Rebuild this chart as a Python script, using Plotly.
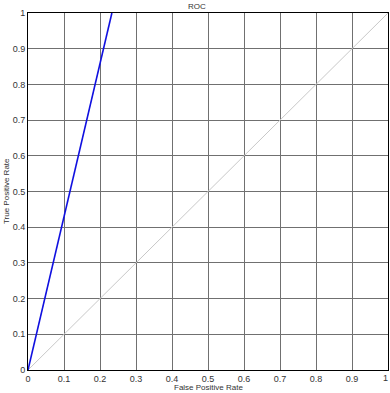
import plotly.graph_objects as go

fpr = [0.0, 0.233]
tpr = [0.0, 1.0]
diag_x = [0.0, 1.0]
diag_y = [0.0, 1.0]
tick_vals = [0, 0.1, 0.2, 0.3, 0.4, 0.5, 0.6, 0.7, 0.8, 0.9, 1]
tick_text = ["0", "0.1", "0.2", "0.3", "0.4", "0.5", "0.6", "0.7", "0.8", "0.9", "1"]

fig = go.Figure()
fig.add_trace(go.Scatter(x=diag_x, y=diag_y, mode="lines",
                         line=dict(color="#c8c8c8", width=1), showlegend=False))
fig.add_trace(go.Scatter(x=fpr, y=tpr, mode="lines",
                         line=dict(color="#1010e0", width=1.6), showlegend=False))

axis_common = dict(range=[0, 1], tickvals=tick_vals, ticktext=tick_text,
                   showgrid=True, gridcolor="#707070", gridwidth=1,
                   showline=True, linecolor="#000000", linewidth=1, mirror=True,
                   zeroline=False, ticks="", automargin=False,
                   tickfont=dict(size=9, color="#333333"))

fig.update_layout(
    width=390, height=393,
    margin=dict(l=28, r=2, t=13, b=23),
    paper_bgcolor="white", plot_bgcolor="white",
    font=dict(family="Liberation Sans, Arial, sans-serif", size=9, color="#333333"),
    xaxis=dict(axis_common),
    yaxis=dict(axis_common),
    annotations=[
        dict(text="ROC", x=0.47, y=1, xref="paper", yref="paper", xanchor="center",
             yanchor="bottom", yshift=0, showarrow=False, font=dict(size=8, color="#333333")),
        dict(text="False Positive Rate", x=0.5, y=0, xref="paper", yref="paper",
             xanchor="center", yanchor="top", yshift=-11, showarrow=False,
             font=dict(size=8, color="#333333")),
        dict(text="True Positive Rate", x=0, y=0.5, xref="paper", yref="paper",
             xanchor="right", yanchor="middle", xshift=-15, textangle=-90, showarrow=False,
             font=dict(size=8, color="#333333")),
        dict(text=tick_text[-1], x=tick_vals[-1], y=0, xref="x", yref="paper",
             xanchor="right", yanchor="top", xshift=2, yshift=-1, showarrow=False,
             font=dict(size=9, color="#333333")),
    ],
)

fig.write_html("out.html", config={"displayModeBar": False},
               post_script="document.body.style.margin='0';")
